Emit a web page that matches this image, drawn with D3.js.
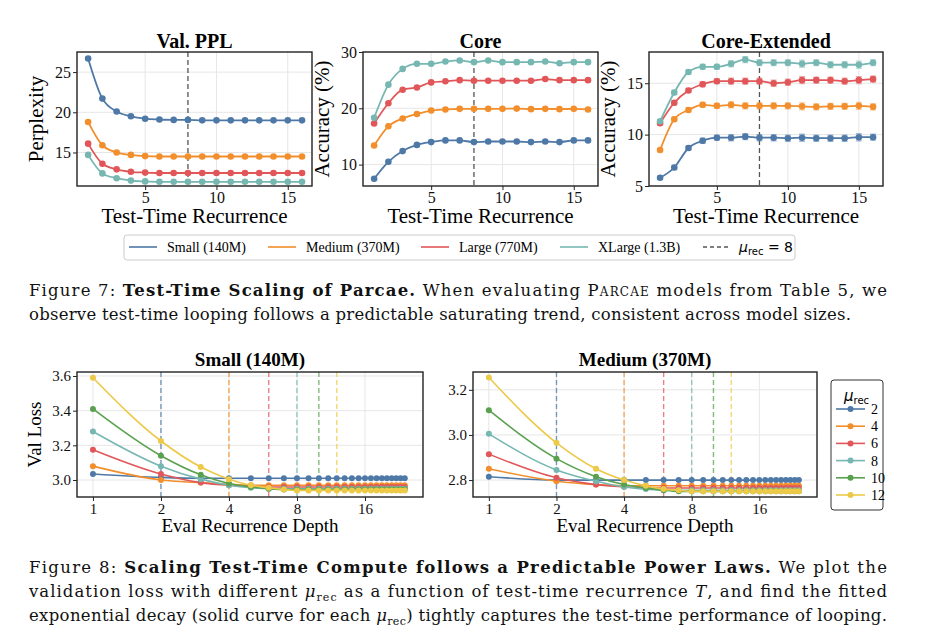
<!DOCTYPE html>
<html>
<head>
<script src="https://cdn.jsdelivr.net/npm/d3@7"></script>
<style>body{margin:0;background:#fff}</style>
</head>
<body>
<script>
var W = 928, H = 632;
var serif = "Liberation Serif";
var capFont = "DejaVu Serif";
var sans = "DejaVu Sans";

// ---- Figure 7 data ----
var steps = d3.range(1, 17);
var sizes = ["Small (140M)", "Medium (370M)", "Large (770M)", "XLarge (1.3B)"];
var sizeColors = ["#4e79a7", "#f28e2b", "#e15759", "#76b7b2"];

var pplSmall  = [26.7,21.7,20.1,19.5,19.2,19.1,19.05,19.05,19.0,19.0,19.0,19.0,19.0,19.0,19.0,19.0];
var pplMedium = [18.8,15.9,15.0,14.7,14.55,14.5,14.5,14.5,14.5,14.5,14.5,14.5,14.5,14.5,14.5,14.5];
var pplLarge  = [16.1,13.6,12.9,12.6,12.5,12.45,12.45,12.45,12.45,12.45,12.45,12.45,12.45,12.45,12.45,12.45];
var pplXL     = [14.7,12.4,11.8,11.5,11.4,11.35,11.35,11.35,11.35,11.35,11.35,11.35,11.35,11.35,11.35,11.35];

var coreSmall  = [7.5,10.5,12.4,13.5,14.0,14.3,14.3,14.0,14.1,14.1,14.1,14.0,14.1,14.0,14.3,14.3];
var coreMedium = [13.4,16.8,18.2,19.0,19.6,19.8,19.9,19.9,19.9,19.9,19.95,19.85,19.9,19.85,19.9,19.8];
var coreLarge  = [17.3,20.9,23.3,23.7,24.6,24.8,25.0,24.9,24.9,24.9,24.9,24.9,25.2,25.0,25.0,25.0];
var coreXL     = [18.3,24.2,27.0,27.9,27.9,28.3,28.5,28.2,28.5,28.2,28.2,28.2,28.3,28.0,28.2,28.2];

var extSmall  = [5.8,6.8,8.7,9.4,9.7,9.7,9.8,9.7,9.7,9.65,9.7,9.65,9.65,9.65,9.75,9.75];
var extMedium = [8.5,11.5,12.4,12.9,12.8,12.9,12.8,12.8,12.8,12.8,12.75,12.7,12.75,12.75,12.8,12.7];
var extLarge  = [11.1,13.1,14.3,14.9,15.2,15.2,15.2,15.2,15.0,15.1,15.3,15.3,15.3,15.2,15.3,15.4];
var extXL     = [11.3,14.1,16.1,16.6,16.6,16.9,17.3,17.0,17.0,17.0,16.9,17.0,16.8,16.8,16.8,17.0];
var extErr    = [0.15,0.2,0.2,0.25,0.25,0.3,0.3,0.3,0.3,0.3,0.35,0.3,0.3,0.3,0.35,0.3];

// ---- Figure 8 data ----
var depths = d3.range(1, 25);
var mus = [2, 4, 6, 8, 10, 12];
var muColors = ["#4e79a7", "#f28e2b", "#e15759", "#76b7b2", "#59a14f", "#edc948"];
var smallLoss = [
  [3.035,3.015,3.01,3.01,3.01,3.01,3.01,3.01,3.01,3.01,3.01,3.01,3.01,3.01,3.01,3.01,3.01,3.01,3.01,3.01,3.01,3.01,3.01,3.01],
  [3.08,3.0,2.985,2.975,2.97,2.97,2.97,2.97,2.97,2.97,2.97,2.97,2.97,2.97,2.97,2.97,2.97,2.97,2.97,2.97,2.97,2.97,2.97,2.97],
  [3.175,3.035,2.985,2.97,2.965,2.96,2.96,2.96,2.96,2.96,2.96,2.96,2.96,2.96,2.96,2.96,2.96,2.96,2.96,2.96,2.96,2.96,2.96,2.96],
  [3.28,3.08,3.005,2.97,2.955,2.95,2.95,2.95,2.95,2.95,2.95,2.95,2.95,2.95,2.95,2.95,2.95,2.95,2.95,2.95,2.95,2.95,2.95,2.95],
  [3.41,3.14,3.03,2.98,2.96,2.95,2.945,2.945,2.945,2.945,2.945,2.945,2.945,2.945,2.945,2.945,2.945,2.945,2.945,2.945,2.945,2.945,2.945,2.945],
  [3.59,3.225,3.075,3.005,2.97,2.955,2.945,2.94,2.94,2.94,2.94,2.94,2.94,2.94,2.94,2.94,2.94,2.94,2.94,2.94,2.94,2.94,2.94,2.94]
];
var mediumLoss = [
  [2.815,2.8,2.8,2.8,2.8,2.8,2.8,2.8,2.8,2.8,2.8,2.8,2.8,2.8,2.8,2.8,2.8,2.8,2.8,2.8,2.8,2.8,2.8,2.8],
  [2.85,2.795,2.78,2.775,2.775,2.775,2.775,2.775,2.775,2.775,2.775,2.775,2.775,2.775,2.775,2.775,2.775,2.775,2.775,2.775,2.775,2.775,2.775,2.775],
  [2.915,2.81,2.78,2.77,2.765,2.765,2.765,2.765,2.765,2.765,2.765,2.765,2.765,2.765,2.765,2.765,2.765,2.765,2.765,2.765,2.765,2.765,2.765,2.765],
  [3.005,2.845,2.795,2.77,2.76,2.755,2.755,2.755,2.755,2.755,2.755,2.755,2.755,2.755,2.755,2.755,2.755,2.755,2.755,2.755,2.755,2.755,2.755,2.755],
  [3.11,2.895,2.815,2.78,2.765,2.755,2.75,2.75,2.75,2.75,2.75,2.75,2.75,2.75,2.75,2.75,2.75,2.75,2.75,2.75,2.75,2.75,2.75,2.75],
  [3.255,2.965,2.85,2.8,2.775,2.76,2.755,2.75,2.75,2.75,2.75,2.75,2.75,2.75,2.75,2.75,2.75,2.75,2.75,2.75,2.75,2.75,2.75,2.75]
];

var svg = d3.select("body").append("svg").attr("width", W).attr("height", H)
  .attr("font-family", serif);

function styleAxis(a, size) {
  a.select(".domain").remove();
  a.selectAll("text").attr("font-size", size).attr("font-family", serif).attr("fill", "#111");
  a.selectAll("line").attr("stroke", "#222");
}

function frame(g, x0, x1, y0, y1) {
  g.append("rect").attr("x", x0).attr("y", y0).attr("width", x1 - x0).attr("height", y1 - y0)
    .attr("fill", "none").attr("stroke", "#222").attr("stroke-width", 1.4);
}

function topPanel(x0, x1, title, ylabel, yDomain, yTicks, series, errs) {
  var y0 = 52, y1 = 186;
  var x = d3.scaleLinear().domain([0.22, 16.7]).range([x0, x1]);
  var y = d3.scaleLinear().domain(yDomain).range([y1, y0]);
  var g = svg.append("g");
  g.selectAll(null).data([5, 10, 15]).enter().append("line")
    .attr("x1", x).attr("x2", x).attr("y1", y0).attr("y2", y1).attr("stroke", "#e6e6e6");
  g.selectAll(null).data(yTicks).enter().append("line")
    .attr("x1", x0).attr("x2", x1).attr("y1", y).attr("y2", y).attr("stroke", "#e6e6e6");
  g.append("line").attr("x1", x(8)).attr("x2", x(8)).attr("y1", y0).attr("y2", y1)
    .attr("stroke", "#555").attr("stroke-width", 1.3).attr("stroke-dasharray", "5,3");
  var line = d3.line().x(function(d, i) { return x(steps[i]); }).y(function(d) { return y(d); })
    .curve(d3.curveMonotoneX);
  series.forEach(function(s, k) {
    if (errs) {
      g.selectAll(null).data(s).enter().append("path")
        .attr("d", function(d, i) {
          var cx = x(steps[i]), a = y(d - errs[i]), b = y(d + errs[i]);
          return "M" + cx + "," + a + "V" + b + "M" + (cx - 3) + "," + a + "h6M" + (cx - 3) + "," + b + "h6";
        })
        .attr("stroke", sizeColors[k]).attr("stroke-opacity", 0.5).attr("stroke-width", 1.2);
    }
    g.append("path").datum(s).attr("d", line).attr("fill", "none")
      .attr("stroke", sizeColors[k]).attr("stroke-width", 1.8);
    g.selectAll(null).data(s).enter().append("circle")
      .attr("cx", function(d, i) { return x(steps[i]); }).attr("cy", y).attr("r", 3.3)
      .attr("fill", sizeColors[k]);
  });
  frame(g, x0, x1, y0, y1);
  g.append("g").attr("transform", "translate(0," + y1 + ")")
    .call(d3.axisBottom(x).tickValues([5, 10, 15]).tickSize(4).tickPadding(2))
    .call(function(a) { styleAxis(a, 16); });
  g.append("g").attr("transform", "translate(" + x0 + ",0)")
    .call(d3.axisLeft(y).tickValues(yTicks).tickSize(4).tickPadding(2))
    .call(function(a) { styleAxis(a, 16); });
  g.append("text").attr("x", (x0 + x1) / 2).attr("y", 48).attr("text-anchor", "middle")
    .attr("font-size", 20).attr("font-weight", "bold").text(title);
  g.append("text").attr("x", (x0 + x1) / 2).attr("y", 223).attr("text-anchor", "middle")
    .attr("font-size", 21).text("Test-Time Recurrence");
  g.append("text").attr("transform", "translate(" + (x0 - 34) + "," + ((y0 + y1) / 2) + ") rotate(-90)")
    .attr("text-anchor", "middle").attr("font-size", 21).text(ylabel);
}

topPanel(77, 312, "Val. PPL", "Perplexity", [10.83, 27.5], [15, 20, 25], [pplSmall, pplMedium, pplLarge, pplXL]);
topPanel(363, 598, "Core", "Accuracy (%)", [6.2, 30], [10, 20, 30], [coreSmall, coreMedium, coreLarge, coreXL]);
topPanel(649, 883, "Core-Extended", "Accuracy (%)", [5, 18.04], [5, 10, 15], [extSmall, extMedium, extLarge, extXL], extErr);

// top legend
var lg = svg.append("g");
lg.append("rect").attr("x", 124).attr("y", 235).attr("width", 671).attr("height", 25).attr("rx", 3)
  .attr("fill", "#fff").attr("stroke", "#ccc");
var legX = [129, 268, 421, 560];
sizes.forEach(function(s, i) {
  lg.append("line").attr("x1", legX[i]).attr("x2", legX[i] + 28).attr("y1", 247).attr("y2", 247)
    .attr("stroke", sizeColors[i]).attr("stroke-width", 1.6);
  lg.append("text").attr("x", legX[i] + 38).attr("y", 252).attr("font-size", 14).text(s);
});
lg.append("line").attr("x1", 703).attr("x2", 729).attr("y1", 247).attr("y2", 247)
  .attr("stroke", "#555").attr("stroke-width", 1.3).attr("stroke-dasharray", "4,3");
var mt = lg.append("text").attr("x", 739).attr("y", 252).attr("font-family", sans).attr("font-size", 14);
mt.append("tspan").attr("font-style", "italic").text("μ");
mt.append("tspan").attr("dy", 3).attr("font-size", 10).text("rec");
mt.append("tspan").attr("dy", -3).text(" = 8");

// captions
function caption(yy, parts, len) {
  var t = svg.append("text").attr("x", 29).attr("y", yy).attr("font-family", capFont)
    .attr("font-size", 16.5).attr("fill", "#111");
  if (len) t.attr("textLength", len).attr("lengthAdjust", "spacing");
  parts.forEach(function(p) {
    var s = t.append("tspan").text(p.t);
    if (p.b) s.attr("font-weight", "bold");
    if (p.i) s.attr("font-style", "italic");
    if (p.sc) s.attr("font-variant", "small-caps");
    if (p.sub) s.attr("dy", 4).attr("font-size", 11);
    if (p.up) s.attr("dy", -4);
  });
}
caption(296, [{t: "Figure 7: "}, {t: "Test-Time Scaling of Parcae.", b: 1}, {t: " When evaluating "}, {t: "Parcae", sc: 1}, {t: " models from Table 5, we"}], 858);
caption(320, [{t: "observe test-time looping follows a predictable saturating trend, consistent across model sizes."}], 822);

// ---- Figure 8 panels ----
function lossPanel(x0, x1, title, yDomain, yTicks, data, showYLabel) {
  var y0 = 372, y1 = 497;
  var x = d3.scaleLog().base(2).domain([0.85, 28.9]).range([x0, x1]);
  var y = d3.scaleLinear().domain(yDomain).range([y1, y0]);
  var g = svg.append("g");
  var xt = [1, 2, 4, 8, 16];
  g.selectAll(null).data(xt).enter().append("line")
    .attr("x1", x).attr("x2", x).attr("y1", y0).attr("y2", y1).attr("stroke", "#e6e6e6");
  g.selectAll(null).data(yTicks).enter().append("line")
    .attr("x1", x0).attr("x2", x1).attr("y1", y).attr("y2", y).attr("stroke", "#e6e6e6");
  mus.forEach(function(m, k) {
    g.append("line").attr("x1", x(m)).attr("x2", x(m)).attr("y1", y0).attr("y2", y1)
      .attr("stroke", muColors[k]).attr("stroke-opacity", 0.75).attr("stroke-width", 1.4)
      .attr("stroke-dasharray", "5,3");
  });
  var line = d3.line().x(function(d, i) { return x(depths[i]); }).y(function(d) { return y(d); })
    .curve(d3.curveMonotoneX);
  data.forEach(function(s, k) {
    g.append("path").datum(s).attr("d", line).attr("fill", "none")
      .attr("stroke", muColors[k]).attr("stroke-width", 1.6);
    g.selectAll(null).data(s).enter().append("circle")
      .attr("cx", function(d, i) { return x(depths[i]); }).attr("cy", y).attr("r", 3)
      .attr("fill", muColors[k]);
  });
  frame(g, x0, x1, y0, y1);
  g.append("g").attr("transform", "translate(0," + y1 + ")")
    .call(d3.axisBottom(x).tickValues(xt).tickFormat(d3.format("d")).tickSize(4).tickPadding(2))
    .call(function(a) { styleAxis(a, 15); });
  g.append("g").attr("transform", "translate(" + x0 + ",0)")
    .call(d3.axisLeft(y).tickValues(yTicks).tickFormat(d3.format(".1f")).tickSize(4).tickPadding(2))
    .call(function(a) { styleAxis(a, 15); });
  g.append("text").attr("x", (x0 + x1) / 2).attr("y", 366).attr("text-anchor", "middle")
    .attr("font-size", 19).attr("font-weight", "bold").text(title);
  g.append("text").attr("x", (x0 + x1) / 2).attr("y", 532).attr("text-anchor", "middle")
    .attr("font-size", 19).text("Eval Recurrence Depth");
  if (showYLabel) {
    g.append("text").attr("transform", "translate(" + (x0 - 36) + "," + ((y0 + y1) / 2) + ") rotate(-90)")
      .attr("text-anchor", "middle").attr("font-size", 19).text("Val Loss");
  }
}
lossPanel(77, 423, "Small (140M)", [2.902, 3.623], [3.0, 3.2, 3.4, 3.6], smallLoss, true);
lossPanel(473, 817, "Medium (370M)", [2.725, 3.279], [2.8, 3.0, 3.2], mediumLoss, false);

// mu legend
var ml = svg.append("g");
ml.append("rect").attr("x", 831).attr("y", 380).attr("width", 52).attr("height", 130).attr("rx", 3)
  .attr("fill", "#fff").attr("stroke", "#333");
var mtt = ml.append("text").attr("x", 844).attr("y", 401).attr("font-family", sans).attr("font-size", 15);
mtt.append("tspan").attr("font-style", "italic").text("μ");
mtt.append("tspan").attr("dy", 3).attr("font-size", 10).text("rec");
mus.forEach(function(m, i) {
  var yy = 409 + i * 17.2;
  ml.append("line").attr("x1", 836).attr("x2", 865).attr("y1", yy).attr("y2", yy)
    .attr("stroke", muColors[i]).attr("stroke-width", 1.6);
  ml.append("circle").attr("cx", 850.5).attr("cy", yy).attr("r", 3).attr("fill", muColors[i]);
  ml.append("text").attr("x", 871).attr("y", yy + 5).attr("font-size", 14).text(m);
});

caption(573, [{t: "Figure 8: "}, {t: "Scaling Test-Time Compute follows a Predictable Power Laws.", b: 1}, {t: " We plot the"}], 858);
caption(597, [{t: "validation loss with different "}, {t: "μ", i: 1}, {t: "rec", sub: 1}, {t: " as a function of test-time recurrence ", up: 1}, {t: "T", i: 1}, {t: ", and find the fitted"}], 858);
caption(621, [{t: "exponential decay (solid curve for each "}, {t: "μ", i: 1}, {t: "rec", sub: 1}, {t: ") tightly captures the test-time performance of looping.", up: 1}], 858);
</script>
</body>
</html>
